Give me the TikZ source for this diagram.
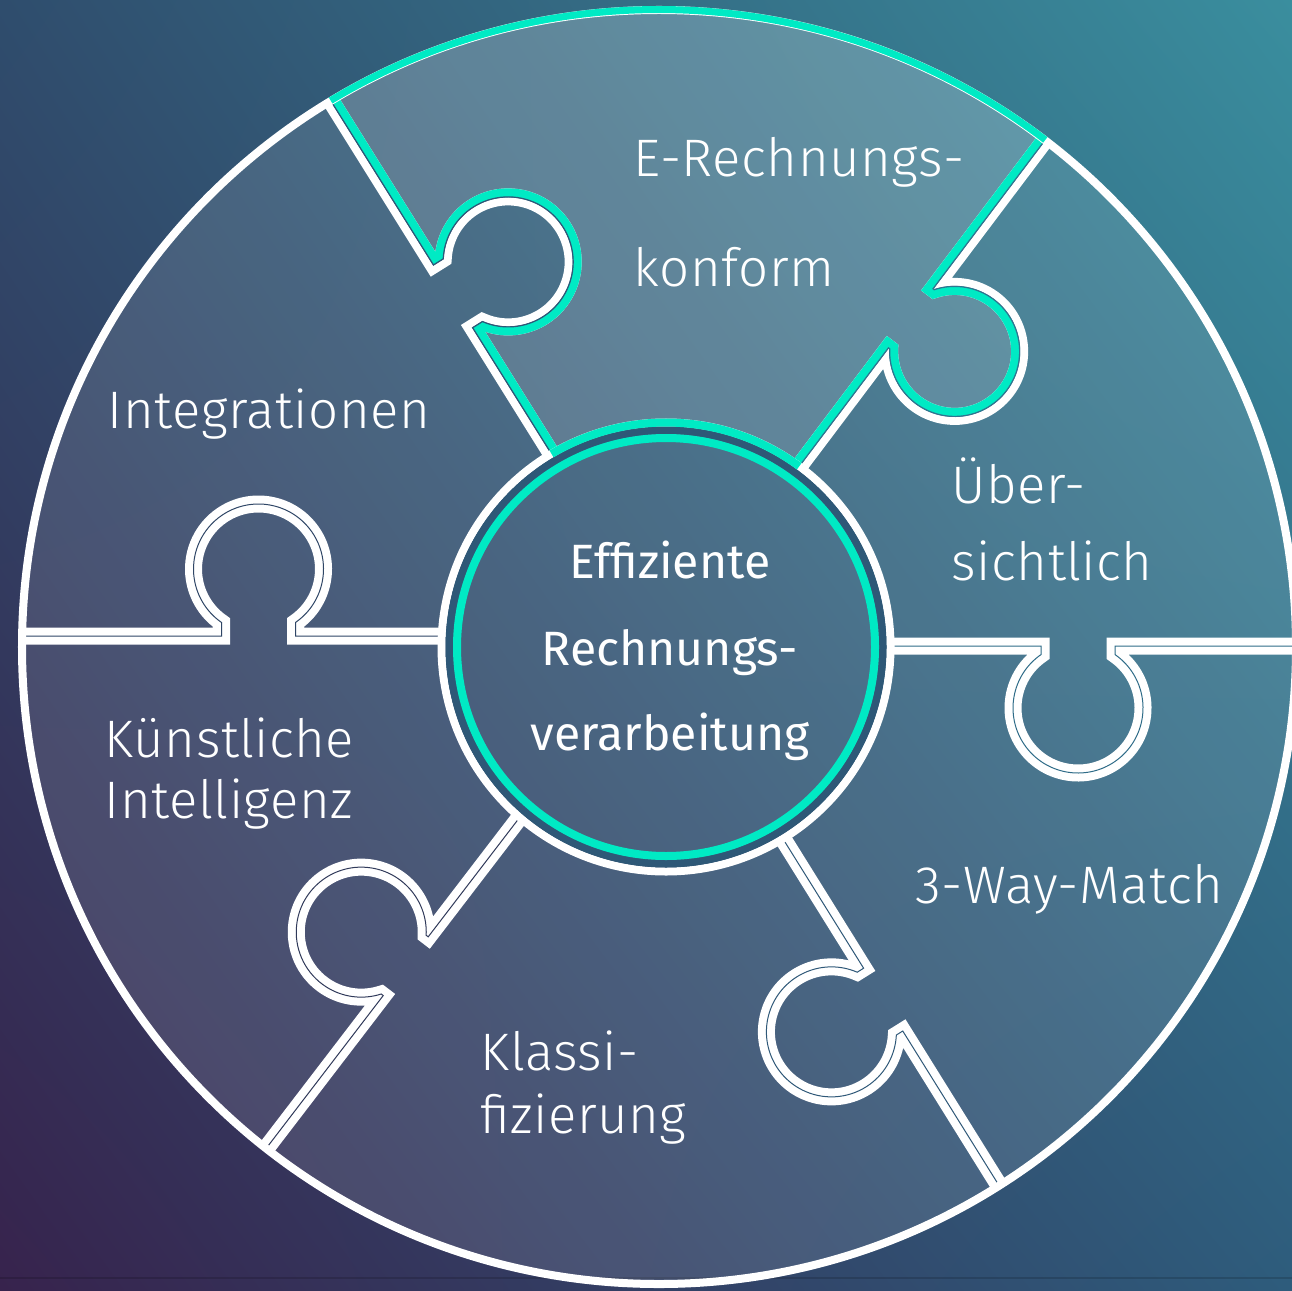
\documentclass[tikz,border=0pt]{standalone}
\usepackage{fontspec}
\setmainfont{Fira Sans Light}[LetterSpace=1.0]
\newfontfamily\regf{Fira Sans}
\usetikzlibrary{shadings}
\definecolor{tealx}{HTML}{00EAC4}
\definecolor{ringdark}{HTML}{2E5877}
\definecolor{bgul}{RGB}{47,77,109}
\definecolor{bgur}{RGB}{58,142,158}
\definecolor{bgll}{RGB}{55,35,77}
\definecolor{bglr}{RGB}{46,92,124}
\definecolor{core1}{RGB}{47,108,136}
\definecolor{core2}{RGB}{47,117,144}
\definecolor{core3}{RGB}{46,88,120}
\definecolor{core4}{RGB}{47,70,102}
\definecolor{core5}{RGB}{48,58,90}
\definecolor{core6}{RGB}{47,88,120}
\tikzset{
  bline/.style={draw=white, line width=0.08cm, double distance=0.01cm, line join=miter},
  lbl/.style={text=white, inner sep=0pt, anchor=base west, font=\fontsize{15pt}{18pt}\selectfont},
  clbl/.style={text=white, inner sep=0pt, anchor=base, font=\regf\fontsize{13.7pt}{16pt}\selectfont},
}
\newcommand\mkbound[6]{%
  \begin{scope}[shift={#2}, rotate=#3]
    \coordinate (#1-P) at (0,0);
    \coordinate (#1-n1) at ({#5-37},0);
    \coordinate (#1-a) at ({#5-37},{53.44-#6});
    \coordinate (#1-b) at ({#5+37},{53.44-#6});
    \coordinate (#1-n2) at ({#5+37},0);
    \coordinate (#1-Q) at (#4,0);
  \end{scope}}
\newcommand\drawbound[3]{%
  \draw[#3] (#1-P) -- (#1-n1) -- (#1-a) arc[start angle={124.7+#2}, end angle={415.3+#2}, radius=65] -- (#1-n2) -- (#1-Q);}
\begin{document}
\begin{tikzpicture}[x=0.01cm, y=0.01cm]
\useasboundingbox (0,0) rectangle (1292,1290);
\shade[upper left=bgul, upper right=bgur, lower left=bgll, lower right=bglr]
  (0,0) rectangle (1292,1290);
\draw[black, opacity=0.15, line width=0.02cm] (0,12) -- (1292,12);
\coordinate (O) at (659,643);
\coordinate (I) at (666,643);
% boundaries
\mkbound{b1}{(890.5,644)}{0}{406}{187.5}{62}
\mkbound{b2}{(799.2,823.7)}{53.0}{408.2}{185.3}{55}
\mkbound{b3}{(551.5,836.1)}{122.0}{416.2}{185.8}{65}
\mkbound{b4}{(442,654)}{180}{420}{183.5}{67}
\mkbound{b5}{(520.2,473.3)}{232.55}{418}{188.3}{56}
\mkbound{b6}{(782.9,451.3)}{-58.07}{409}{189.6}{61}
% disc fill
\fill[white, opacity=0.11] (O) circle[radius=637];
% highlighted piece fill
\fill[white, opacity=0.12] (b3-P) -- (b3-n1) -- (b3-a) arc[start angle=246.7, end angle=537.3, radius=65] -- (b3-n2) -- (b3-Q)
  arc[start angle=121.0, end angle=52.7, radius=637] -- (b2-n2) -- (b2-b) arc[start angle=468.3, end angle=177.7, radius=65]
  -- (b2-n1) -- (b2-P) arc[start angle=53.6, end angle=120.66, radius=224.5] -- cycle;
% double boundary lines
\drawbound{b1}{0}{bline, double=core1}
\drawbound{b2}{53.0}{bline, double=core2}
\drawbound{b3}{122.0}{bline, double=core3}
\drawbound{b4}{180}{bline, double=core4}
\drawbound{b5}{232.55}{bline, double=core5}
\drawbound{b6}{-58.07}{bline, double=core6}
% teal inner side of highlighted piece
\begin{scope}
  \clip (b3-P) -- (b3-n1) -- (b3-a) arc[start angle=246.7, end angle=537.3, radius=65] -- (b3-n2) -- (b3-Q)
  arc[start angle=121.0, end angle=52.7, radius=637] -- (b2-n2) -- (b2-b) arc[start angle=468.3, end angle=177.7, radius=65]
  -- (b2-n1) -- (b2-P) arc[start angle=53.6, end angle=120.66, radius=224.5] -- cycle;
  \drawbound{b2}{53.0}{tealx, line width=0.17cm, line join=miter}
  \drawbound{b3}{122.0}{tealx, line width=0.17cm, line join=miter}
\end{scope}
\drawbound{b2}{53.0}{core2, line width=0.012cm}
\drawbound{b3}{122.0}{core3, line width=0.012cm}
% outer circle
\draw[white, line width=0.08cm] (O) circle[radius=637];
\draw[tealx, line width=0.07cm] (O) ++(121:637.5) arc[start angle=121, end angle=52.7, radius=637.5];
% centre circle
\draw[white, line width=0.08cm] (I) circle[radius=224.5];
\draw[ringdark, line width=0.075cm] (I) circle[radius=216.75];
\draw[tealx, line width=0.08cm] (I) circle[radius=209];
\draw[tealx, line width=0.08cm] (I) ++(53.6:224.5) arc[start angle=53.6, end angle=120.66, radius=224.5];
% labels
\node[lbl] (t-e1) at (633,1113) {E-Rechnungs-};
\node[lbl] (t-e2) at (633,1003) {konform};
\node[lbl] (t-int) at (107,862) {Integrationen};
\node[lbl] (t-u1) at (951,787) {Über-};
\node[lbl] (t-u2) at (951,710) {sichtlich};
\node[lbl] (t-k1) at (104,533) {Künstliche};
\node[lbl] (t-k2) at (104,472) {Intelligenz};
\node[lbl] (t-3w) at (915,387) {3-Way-Match};
\node[lbl] (t-kl1) at (480,220) {Klassi-};
\node[lbl] (t-kl2) at (480,157) {fizierung};
\node[clbl] (c1) at (670,711.7) {Effiziente};
\node[clbl] (c2) at (670,625) {Rechnungs-};
\node[clbl] (c3) at (670,539.3) {verarbeitung};
\end{tikzpicture}
\end{document}
